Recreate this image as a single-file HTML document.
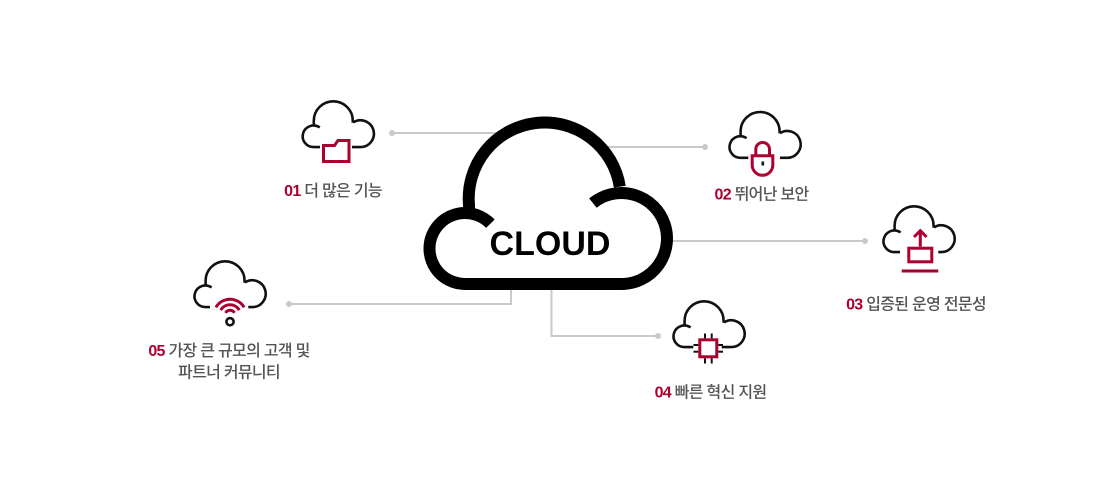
<!DOCTYPE html>
<html>
<head>
<meta charset="utf-8">
<style>
html,body{margin:0;padding:0;background:#fff;}
body{width:1100px;height:500px;overflow:hidden;}
svg{display:block;}
.lbl{font-family:"Liberation Sans","Noto Sans CJK KR",sans-serif;font-size:16px;letter-spacing:-0.7px;fill:#555;font-weight:500;}
.num{fill:#ab0030;font-weight:bold;}
</style>
</head>
<body>
<svg width="1100" height="500" viewBox="0 0 1100 500" xmlns="http://www.w3.org/2000/svg">
  <!-- connectors -->
  <g stroke="#c9c9c9" stroke-width="2" fill="none">
    <line x1="392" y1="133" x2="512" y2="133"/>
    <line x1="600" y1="147" x2="705" y2="147"/>
    <line x1="665" y1="241" x2="865" y2="241"/>
    <polyline points="289,304 511,304 511,284"/>
    <polyline points="551.5,284 551.5,336 658,336"/>
  </g>
  <g fill="#c9c9c9">
    <circle cx="392" cy="133" r="3"/>
    <circle cx="705" cy="147" r="3"/>
    <circle cx="865" cy="241" r="3"/>
    <circle cx="289" cy="304" r="3"/>
    <circle cx="658" cy="336" r="3"/>
  </g>

  <!-- big cloud -->
  <g stroke="#000" stroke-width="12" fill="none" stroke-linecap="butt">
    <path d="M469,214 V205 A76 76 0 0 1 619.8,186.7"/>
    <path d="M490.4,223.7 A35.5 35.5 0 1 0 465,284 H621.5 A45.5 45.5 0 1 0 592.9,203.1"/>
  </g>
  <text x="550" y="255" text-anchor="middle" font-family="'Liberation Sans',sans-serif" font-weight="bold" font-size="34" fill="#000">CLOUD</text>

  <!-- small clouds -->
  <g stroke="#111" stroke-width="2.6" fill="none">
    <g transform="translate(301.5,100)">
      <path d="M12.3,25.5 V20.8 A19.5 19.5 0 0 1 51.3,20.8 V22.7"/>
      <path d="M18.27,27.5 A10.8 10.8 0 1 0 12,47.1 H18.5"/>
      <path d="M51.74,22.43 A13.4 13.4 0 1 1 59,47.1 H50.5"/>
    </g>
    <g transform="translate(728.3,110.7)">
      <path d="M12.3,25.5 V20.8 A19.5 19.5 0 0 1 51.3,20.8 V22.7"/>
      <path d="M18.27,27.5 A10.8 10.8 0 1 0 12,47.1 H20"/>
      <path d="M51.74,22.43 A13.4 13.4 0 1 1 59,47.1 H51.7"/>
    </g>
    <g transform="translate(882.3,205)">
      <path d="M12.3,25.5 V20.8 A19.5 19.5 0 0 1 51.3,20.8 V22.7"/>
      <path d="M18.27,27.5 A10.8 10.8 0 1 0 12,47.1 H17.7"/>
      <path d="M51.74,22.43 A13.4 13.4 0 1 1 59,47.1 H56"/>
    </g>
    <g transform="translate(672.3,300)">
      <path d="M12.3,25.5 V20.8 A19.5 19.5 0 0 1 51.3,20.8 V22.7"/>
      <path d="M18.27,27.5 A10.8 10.8 0 1 0 12,47.1 H21"/>
      <path d="M51.74,22.43 A13.4 13.4 0 1 1 59,47.1 H49.4"/>
    </g>
    <g transform="translate(193.3,260)">
      <path d="M12.3,25.5 V20.8 A19.5 19.5 0 0 1 51.3,20.8 V22.7"/>
      <path d="M18.27,27.5 A10.8 10.8 0 1 0 12,47.1 H16.7"/>
      <path d="M51.74,22.43 A13.4 13.4 0 1 1 59,47.1 H55"/>
    </g>
  </g>

  <!-- red icons -->
  <g stroke="#ab0030" stroke-width="3" fill="none">
    <!-- folder -->
    <path d="M323.5,145.5 L334.5,145.5 L338,140.5 L349,140.5 L349,161.5 L323.5,161.5 Z"/>
    <!-- lock -->
    <path d="M755.8,155.5 V149.3 A6.85 6.85 0 0 1 769.5,149.3 V155.5"/>
    <path d="M752.2,155.8 H772.8 V165 A10.3 10.3 0 0 1 752.2,165 Z"/>
    <!-- laptop upload -->
    <rect x="908.8" y="248.2" width="23" height="13.6"/>
    <line x1="920.3" y1="232" x2="920.3" y2="246.7"/>
    <polyline points="914,237 920.3,230.7 926.6,237"/>
    <line x1="901.7" y1="271" x2="938.3" y2="271"/>
    <!-- chip -->
    <rect x="699.8" y="339.8" width="17" height="17"/>
    <!-- wifi -->
    <path d="M215.88,307.35 A16.3 16.3 0 0 1 244.12,307.35"/>
    <path d="M220.73,310.15 A10.7 10.7 0 0 1 239.27,310.15"/>
    <path d="M225.5,312.9 A5.2 5.2 0 0 1 234.5,312.9"/>
  </g>
  <rect x="761.5" y="161.5" width="2.6" height="4" fill="#111"/>
  <g stroke="#111" stroke-width="2">
    <line x1="705" y1="333.5" x2="705" y2="338.3"/>
    <line x1="711.7" y1="333.5" x2="711.7" y2="338.3"/>
    <line x1="705" y1="358.3" x2="705" y2="363.5"/>
    <line x1="711.7" y1="358.3" x2="711.7" y2="363.5"/>
    <line x1="693.5" y1="345" x2="698.3" y2="345"/>
    <line x1="693.5" y1="351.7" x2="698.3" y2="351.7"/>
    <line x1="718.3" y1="345" x2="723" y2="345"/>
    <line x1="718.3" y1="351.7" x2="723" y2="351.7"/>
  </g>
  <circle cx="230" cy="321.7" r="3.6" fill="#fff" stroke="#111" stroke-width="2.6"/>

  <!-- labels -->
  <text class="lbl" x="333" y="196" text-anchor="middle"><tspan class="num">01</tspan> 더 많은 기능</text>
  <text class="lbl" x="761.5" y="199.5" text-anchor="middle"><tspan class="num">02</tspan> 뛰어난 보안</text>
  <text class="lbl" x="916" y="309.5" text-anchor="middle"><tspan class="num">03</tspan> 입증된 운영 전문성</text>
  <text class="lbl" x="710.5" y="397.5" text-anchor="middle"><tspan class="num">04</tspan> 빠른 혁신 지원</text>
  <text class="lbl" x="229" y="356" text-anchor="middle"><tspan class="num">05</tspan> 가장 큰 규모의 고객 및</text>
  <text class="lbl" x="229" y="377.5" text-anchor="middle">파트너 커뮤니티</text>
</svg>
</body>
</html>
